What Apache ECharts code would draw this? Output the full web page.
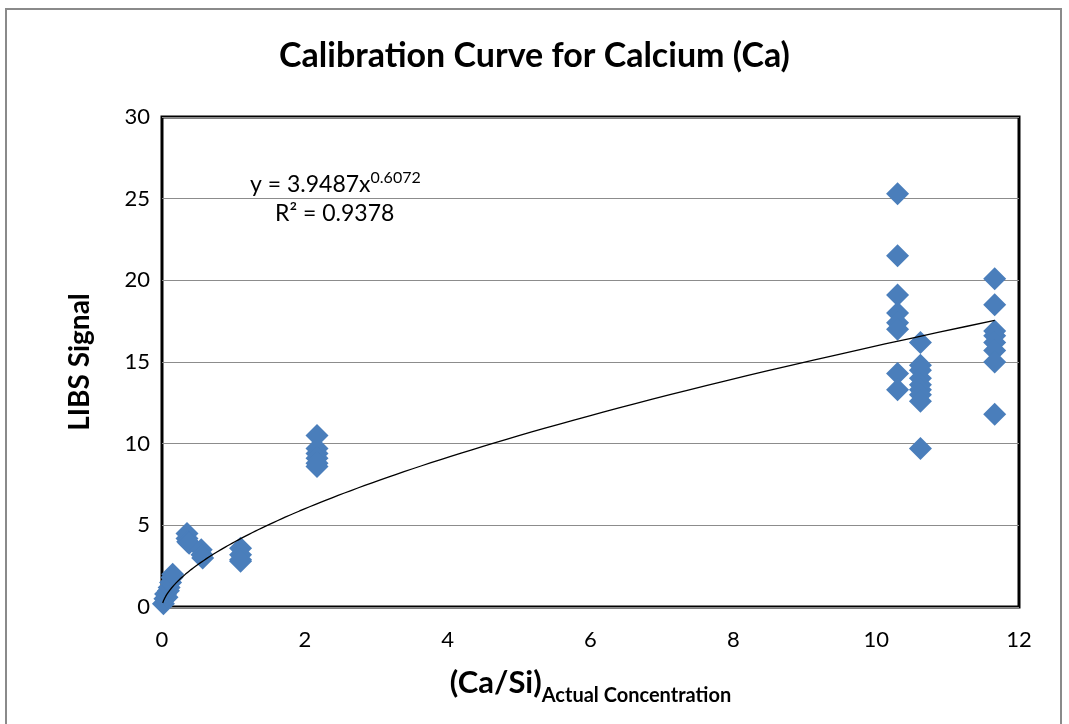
<!DOCTYPE html>
<html>
<head>
<meta charset="utf-8">
<script src="https://cdn.jsdelivr.net/npm/echarts@6/dist/echarts.min.js"></script>
<style>html,body{margin:0;padding:0;background:#fff;}#c{width:1069px;height:724px;}</style>
</head>
<body>
<div id="c"></div>
<script>
// Measured points, one array per concentration group
const group0x = [0.02, 0.04, 0.05, 0.07, 0.09, 0.10, 0.12, 0.14, 0.15];
const group0y = [0.2, 0.5, 0.8, 0.6, 1.0, 1.2, 1.5, 1.8, 2.0];
const group1x = [0.35, 0.35, 0.36, 0.38];
const group1y = [4.5, 4.2, 4.0, 3.9];
const group2x = [0.55, 0.56, 0.57];
const group2y = [3.5, 3.2, 3.0];
const group3x = [1.1, 1.1, 1.1, 1.1];
const group3y = [3.6, 3.2, 2.9, 2.8];
const group4x = [2.17, 2.17, 2.17, 2.17, 2.17, 2.17];
const group4y = [10.5, 9.7, 9.4, 9.1, 8.8, 8.6];
const group5x = [10.3, 10.3, 10.3, 10.3, 10.3, 10.3, 10.3, 10.3];
const group5y = [25.3, 21.5, 19.1, 18.0, 17.4, 17.0, 14.3, 13.3];
const group6x = [10.62, 10.62, 10.62, 10.62, 10.62, 10.62, 10.62, 10.62, 10.62];
const group6y = [16.2, 14.8, 14.5, 14.0, 13.6, 13.3, 13.0, 12.6, 9.7];
const group7x = [11.66, 11.66, 11.66, 11.66, 11.66, 11.66, 11.66, 11.66];
const group7y = [20.1, 18.5, 16.9, 16.6, 16.2, 15.7, 15.0, 11.8];

// Power trendline stated on the chart
const fitA = 3.9487;
const fitB = 0.6072;
const fitR2 = 0.9378;
const fitStart = 0.01;
const fitEnd = 11.66;

const xTicks = [0, 2, 4, 6, 8, 10, 12];
const yTicks = [0, 5, 10, 15, 20, 25, 30];

const allX = [group0x, group1x, group2x, group3x, group4x, group5x, group6x, group7x];
const allY = [group0y, group1y, group2y, group3y, group4y, group5y, group6y, group7y];
const points = [];
allX.forEach((gx, i) => gx.forEach((x, j) => points.push([x, allY[i][j]])));

const fitLine = [];
const nSteps = 200;
for (let i = 0; i <= nSteps; i++) {
  const x = fitStart * Math.pow(fitEnd / fitStart, i / nSteps);
  fitLine.push([x, fitA * Math.pow(x, fitB)]);
}

const FONT = 'Lato, "Open Sans", sans-serif';
const chart = echarts.init(document.getElementById('c'), null, {renderer: 'canvas'});
chart.setOption({
  backgroundColor: '#fff',
  animation: false,
  title: {
    text: 'Calibration Curve for Calcium (Ca)',
    left: 'center', top: 34,
    textStyle: {fontFamily: FONT, fontSize: 34, fontWeight: 'bold', color: '#000'}
  },
  grid: {
    left: 162, right: 50, top: 117, bottom: 117,
    show: true, borderColor: '#000', borderWidth: 3, backgroundColor: 'transparent'
  },
  xAxis: {
    type: 'value', min: xTicks[0], max: xTicks[xTicks.length - 1], interval: 2,
    axisLine: {show: false}, axisTick: {show: false}, splitLine: {show: false},
    axisLabel: {fontFamily: FONT, fontSize: 22, color: '#000', margin: 22},
    name: '{a|(Ca/Si)}{b|Actual Concentration}',
    nameLocation: 'middle', nameGap: 60,
    nameTextStyle: {
      rich: {
        a: {fontFamily: FONT, fontSize: 31, fontWeight: 'bold', color: '#000', verticalAlign: 'bottom'},
        b: {fontFamily: FONT, fontSize: 20, fontWeight: 'bold', color: '#000', verticalAlign: 'bottom', padding: [0, 0, -8, 0]}
      }
    }
  },
  yAxis: {
    type: 'value', min: yTicks[0], max: yTicks[yTicks.length - 1], interval: 5,
    axisLine: {show: false}, axisTick: {show: false},
    splitLine: {show: true, lineStyle: {color: '#8c8c8c', width: 1.2}},
    axisLabel: {fontFamily: FONT, fontSize: 22, color: '#000', margin: 12},
    name: 'LIBS Signal', nameLocation: 'middle', nameGap: 68,
    nameTextStyle: {fontFamily: FONT, fontSize: 28, fontWeight: 'bold', color: '#000'}
  },
  graphic: [
    {type: 'rect', shape: {x: 6, y: 9, width: 1055, height: 730}, style: {fill: 'none', stroke: '#8a8a8a', lineWidth: 2}, silent: true},
    {type: 'text', left: 250, top: 170, style: {
      text: '{m|y = ' + fitA + 'x}{s|' + fitB + '}',
      rich: {m: {fontFamily: FONT, fontSize: 23, fill: '#000'}, s: {fontFamily: FONT, fontSize: 16, fill: '#000', verticalAlign: 'top', padding: [0, 0, 14, 0]}}
    }},
    {type: 'text', left: 275, top: 202, style: {
      text: 'R² = ' + fitR2, font: '23px ' + FONT, fill: '#000'
    }}
  ],
  series: [
    {
      type: 'scatter', data: points, symbol: 'diamond', symbolSize: 23,
      itemStyle: {color: '#4a7ebb', opacity: 1}, z: 2
    },
    {
      type: 'line', data: fitLine, showSymbol: false, smooth: false,
      lineStyle: {color: '#000', width: 1.3}, z: 3
    }
  ]
});
</script>
</body>
</html>
